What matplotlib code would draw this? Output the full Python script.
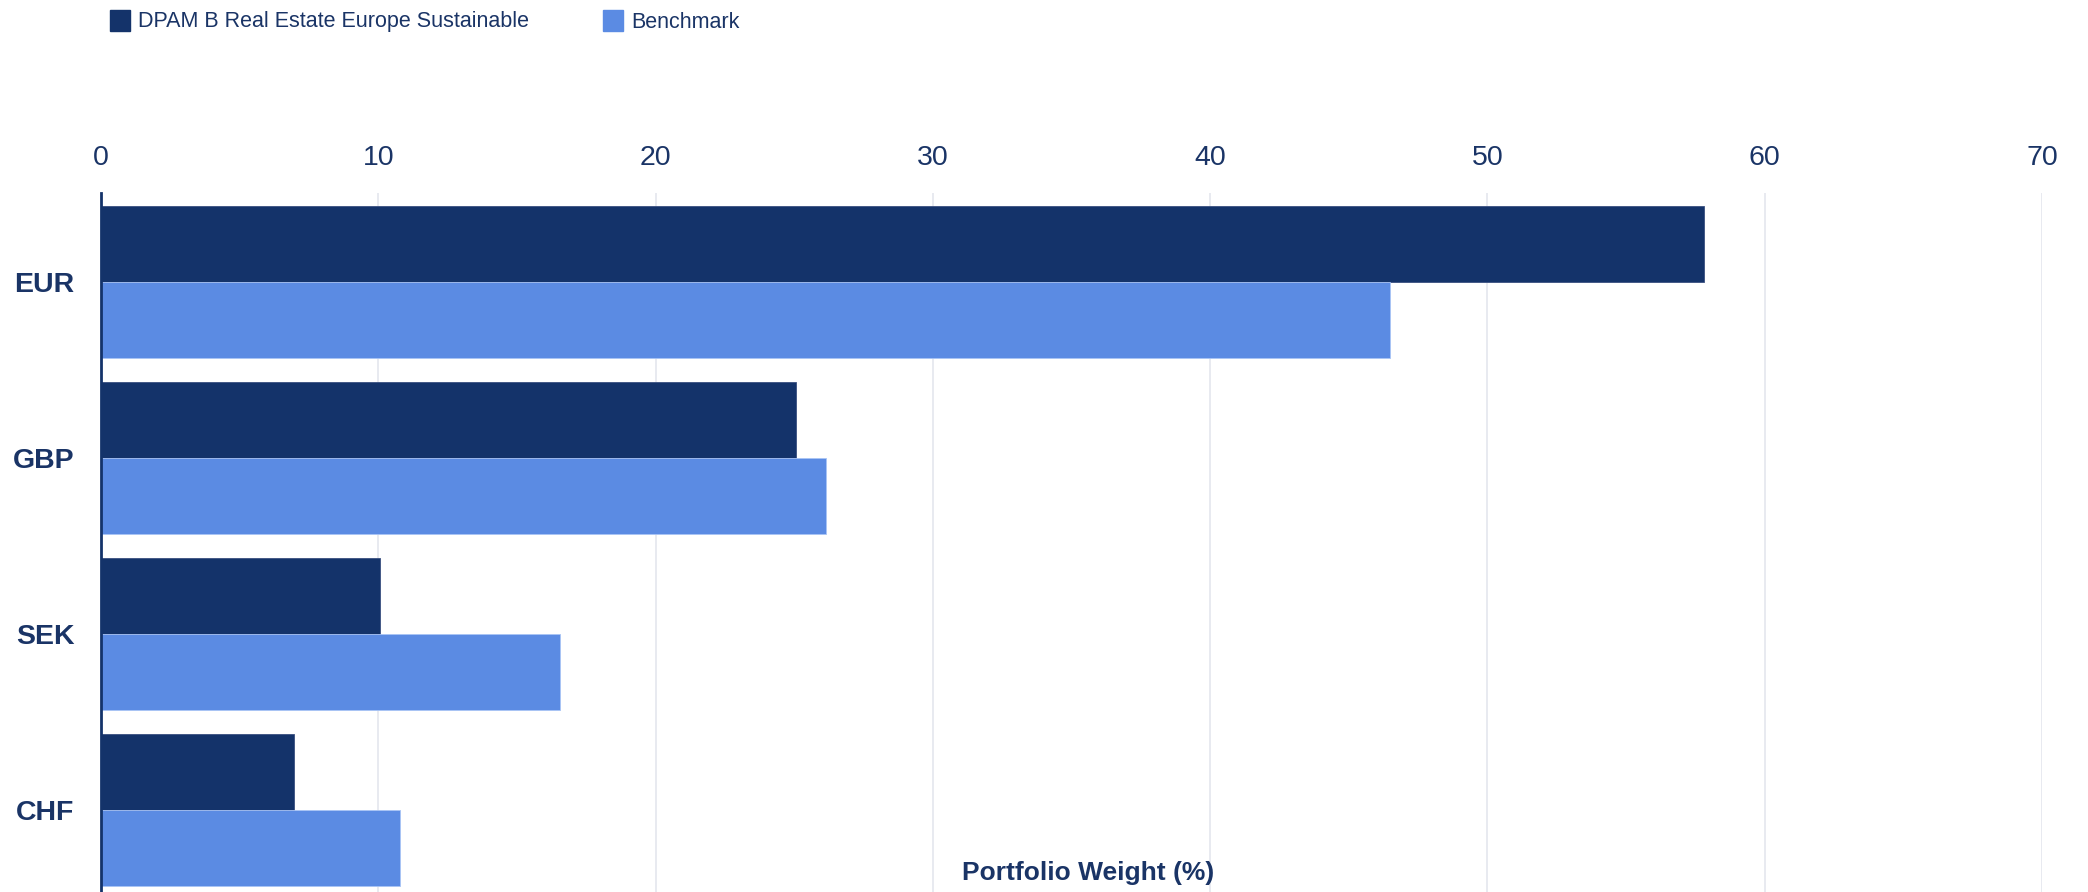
import matplotlib
matplotlib.use("Agg")
import matplotlib.pyplot as plt
import numpy as np

plt.rcParams["font.family"] = ["Liberation Sans", "DejaVu Sans"]

# Currency exposure (%)
currencies = ["EUR", "GBP", "SEK", "CHF"]
fund = [57.8, 25.05, 10.05, 6.97]
benchmark = [46.5, 26.15, 16.57, 10.8]
series_names = ["DPAM B Real Estate Europe Sustainable", "Benchmark"]
x_ticks = [0, 10, 20, 30, 40, 50, 60, 70]

NAVY = "#14336a"
BLUE = "#5b8be3"
TEXT = "#1a3466"
GRID = "#e4e6ee"

W, H = 2088, 892
fig = plt.figure(figsize=(W / 100, H / 100), dpi=100)
ax = fig.add_axes([101 / W, 0, (2042 - 101) / W, 1 - 193 / H])

y = np.arange(len(currencies))
bh = 0.432
ax.barh(y - bh / 2, fund, height=bh, color=NAVY, edgecolor="#3a5080", linewidth=0.6, zorder=3)
ax.barh(y + bh / 2, benchmark, height=bh, color=BLUE, edgecolor="#a9c4f5", linewidth=0.6, zorder=3)

ax.set_xlim(0, 70)
ax.set_ylim(3.466, -0.508)
ax.set_xticks(x_ticks)
ax.set_yticks(y)
ax.set_yticklabels(currencies, fontsize=20.5, fontweight="bold", color=TEXT)
ax.xaxis.tick_top()
ax.tick_params(axis="x", length=0, pad=16, labelsize=20.5, labelcolor=TEXT)
ax.tick_params(axis="y", length=0, pad=19)

ax.grid(axis="x", color=GRID, linewidth=1.2, zorder=0)
for side in ["top", "right", "bottom"]:
    ax.spines[side].set_visible(False)
ax.spines["left"].set_color(NAVY)
ax.spines["left"].set_linewidth(2)
ax.spines["left"].set_zorder(4)

ax.text(1088 / W, 1 - 873 / H, "Portfolio Weight (%)", transform=fig.transFigure,
        ha="center", va="center", fontsize=19, fontweight="bold", color=TEXT)

# Legend drawn as patches + labels across the top
legend_items = [(110, NAVY, series_names[0]), (603, BLUE, series_names[1])]
for x0, col, label in legend_items:
    fig.patches.append(plt.Rectangle((x0 / W, 1 - 31 / H), 20 / W, 21 / H,
                                     transform=fig.transFigure, color=col))
    fig.text((x0 + 28) / W, 1 - 22 / H, label, ha="left", va="center",
             fontsize=15.5, color=TEXT)

fig.savefig("out.png", dpi=100)
